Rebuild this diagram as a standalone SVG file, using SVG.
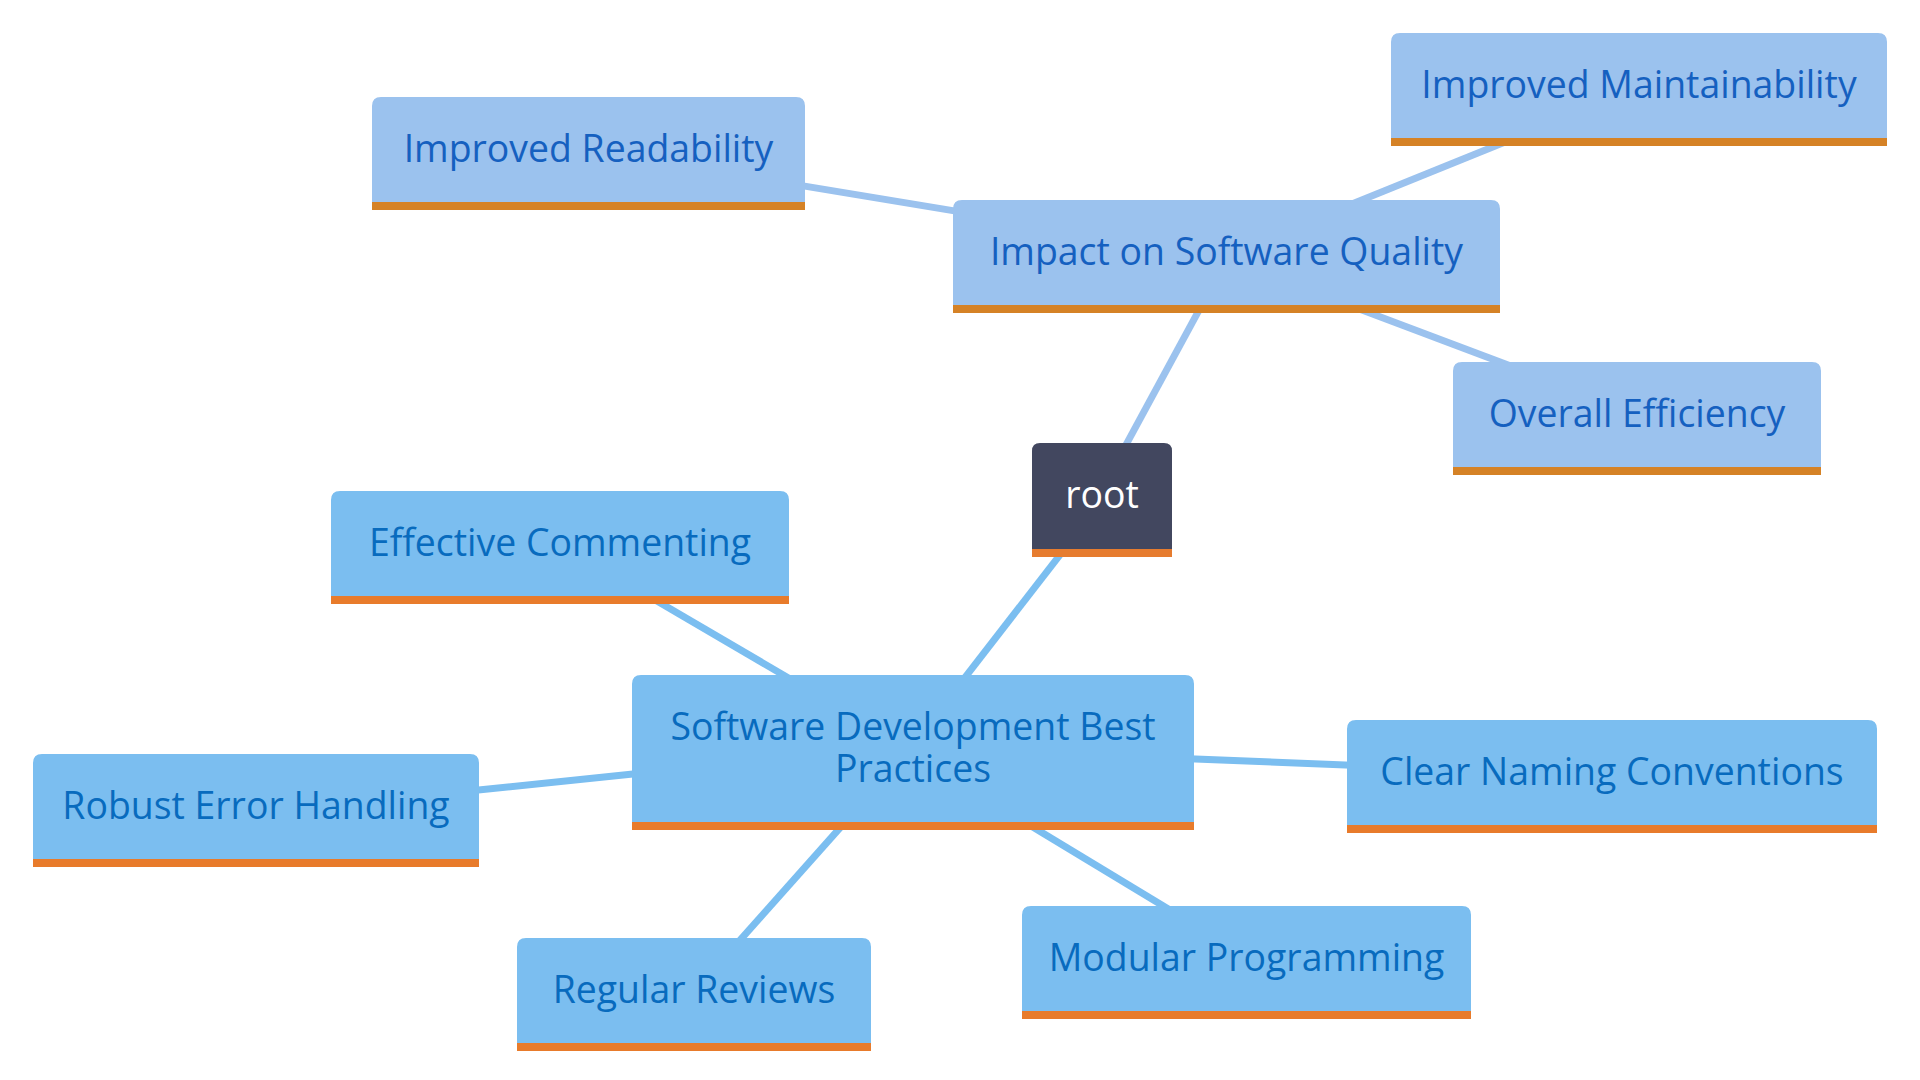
<svg xmlns="http://www.w3.org/2000/svg" width="1920" height="1080" viewBox="0 0 1920 1080">
<style>
.bg{fill:#ffffff}
.e1{stroke:#9bc2ee;stroke-width:7;fill:none;stroke-linecap:butt}
.e2{stroke:#7bbef0;stroke-width:7;fill:none;stroke-linecap:butt}
.f0{fill:#42475f}
.f1{fill:#9bc2ee}
.f2{fill:#7bbef0}
.b0{fill:#e67c2f}
.b1{fill:#d58226}
.b2{fill:#e87b2b}
text{font-family:"Open Sans","Noto Sans","DejaVu Sans",sans-serif;font-size:37.4px;text-anchor:middle}
.t0{fill:#ffffff}
.t1{fill:#1560c0}
.t2{fill:#086bbe}
</style>
<rect class="bg" x="0" y="0" width="1920" height="1080"/>
<g id="connectors">
<line class="e1" x1="1112.7" y1="469.4" x2="1212.3" y2="285.6"/>
<line class="e1" x1="984.6" y1="215.9" x2="774.4" y2="181.1"/>
<line class="e1" x1="1334" y1="211.3" x2="1523" y2="134.7"/>
<line class="e1" x1="1342" y1="302.4" x2="1528" y2="372.6"/>
<line class="e2" x1="1077.4" y1="532.3" x2="948.6" y2="698.7"/>
<line class="e2" x1="809" y1="690" x2="636" y2="588.8"/>
<line class="e2" x1="661.8" y1="770.9" x2="449.2" y2="793.1"/>
<line class="e2" x1="1164" y1="757.8" x2="1377" y2="766.2"/>
<line class="e2" x1="858" y1="807.6" x2="722" y2="960.4"/>
<line class="e2" x1="1012" y1="814.4" x2="1189" y2="921.6"/>
</g>
<g id="root">
<path class="f0" d="M1032,556 V451 Q1032,443 1040,443 H1164 Q1172,443 1172,451 V556 Z"/>
<rect class="b0" x="1032" y="549" width="140" height="8"/>
<text class="t0" x="1102" y="508">root</text>
</g>
<g id="impact">
<path class="f1" d="M953,313 V209 Q953,200 962,200 H1491 Q1500,200 1500,209 V313 Z"/>
<rect class="b1" x="953" y="305" width="547" height="8"/>
<text class="t1" x="1226.5" y="265">Impact on Software Quality</text>
</g>
<g id="readability">
<path class="f1" d="M372,210 V106 Q372,97 381,97 H796 Q805,97 805,106 V210 Z"/>
<rect class="b1" x="372" y="202" width="433" height="8"/>
<text class="t1" x="588.5" y="162">Improved Readability</text>
</g>
<g id="maintainability">
<path class="f1" d="M1391,146 V42 Q1391,33 1400,33 H1878 Q1887,33 1887,42 V146 Z"/>
<rect class="b1" x="1391" y="138" width="496" height="8"/>
<text class="t1" x="1639" y="98">Improved Maintainability</text>
</g>
<g id="efficiency">
<path class="f1" d="M1453,475 V371 Q1453,362 1462,362 H1812 Q1821,362 1821,371 V475 Z"/>
<rect class="b1" x="1453" y="467" width="368" height="8"/>
<text class="t1" x="1637" y="427">Overall Efficiency</text>
</g>
<g id="best-practices">
<path class="f2" d="M632,830 V684 Q632,675 641,675 H1185 Q1194,675 1194,684 V830 Z"/>
<rect class="b2" x="632" y="822" width="562" height="8"/>
<text class="t2" x="913" y="740">Software Development Best<tspan x="913" y="782">Practices</tspan></text>
</g>
<g id="commenting">
<path class="f2" d="M331,604 V500 Q331,491 340,491 H780 Q789,491 789,500 V604 Z"/>
<rect class="b2" x="331" y="596" width="458" height="8"/>
<text class="t2" x="560" y="556">Effective Commenting</text>
</g>
<g id="error-handling">
<path class="f2" d="M33,867 V763 Q33,754 42,754 H470 Q479,754 479,763 V867 Z"/>
<rect class="b2" x="33" y="859" width="446" height="8"/>
<text class="t2" x="256" y="819">Robust Error Handling</text>
</g>
<g id="naming">
<path class="f2" d="M1347,833 V729 Q1347,720 1356,720 H1868 Q1877,720 1877,729 V833 Z"/>
<rect class="b2" x="1347" y="825" width="530" height="8"/>
<text class="t2" x="1612" y="785">Clear Naming Conventions</text>
</g>
<g id="reviews">
<path class="f2" d="M517,1051 V947 Q517,938 526,938 H862 Q871,938 871,947 V1051 Z"/>
<rect class="b2" x="517" y="1043" width="354" height="8"/>
<text class="t2" x="694" y="1003">Regular Reviews</text>
</g>
<g id="modular">
<path class="f2" d="M1022,1019 V915 Q1022,906 1031,906 H1462 Q1471,906 1471,915 V1019 Z"/>
<rect class="b2" x="1022" y="1011" width="449" height="8"/>
<text class="t2" x="1246.5" y="971">Modular Programming</text>
</g>
</svg>
